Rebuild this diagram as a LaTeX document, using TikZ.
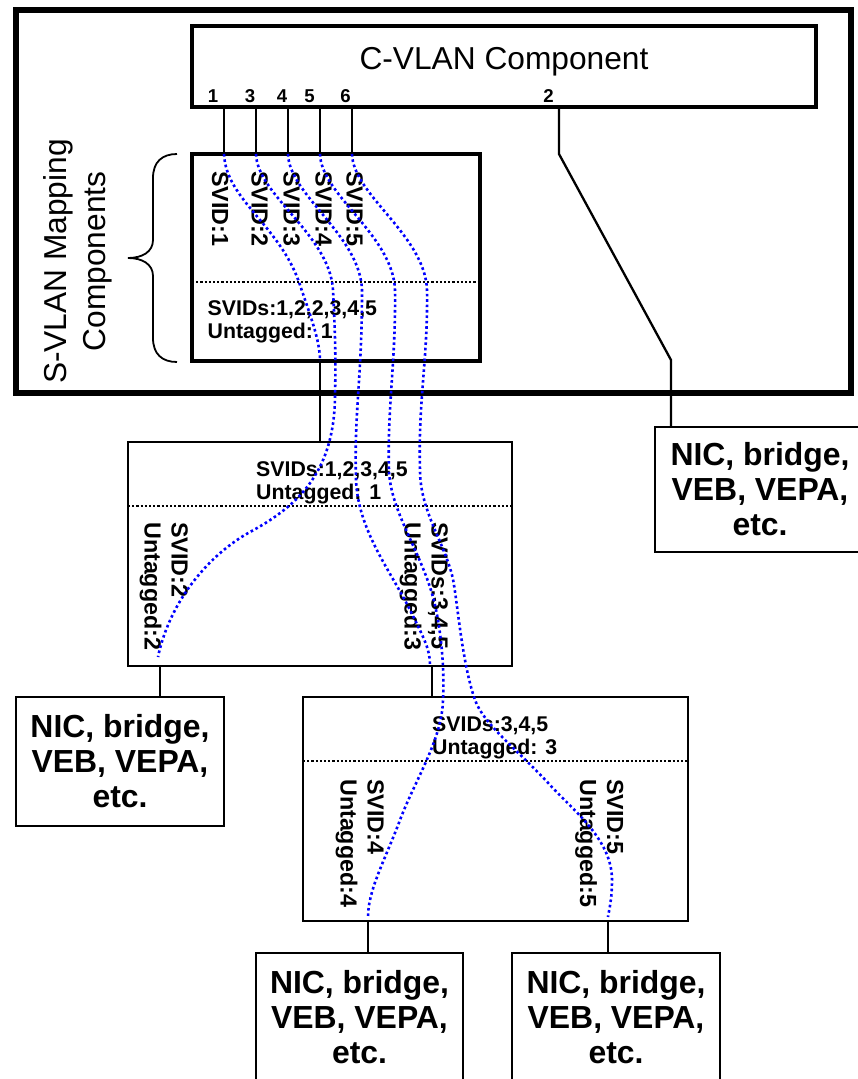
\documentclass[tikz,border=0pt]{standalone}
\usepackage{fontspec}
\setmainfont{Liberation Sans}
\begin{document}
\begin{tikzpicture}[x=1pt,y=-1pt,
  outerbox/.style={draw, line width=5.5pt, inner sep=0, outer sep=0},
  compbox/.style={draw, line width=3.5pt, inner sep=0, outer sep=0},
  svbox/.style={draw, line width=2.5pt, inner sep=0, outer sep=0},
  nicbox/.style={draw, line width=2.7pt, inner sep=0, outer sep=0, align=center,
    font=\fontsize{31.9}{35}\selectfont\bfseries},
  wire/.style={line width=2.3pt},
  sepline/.style={line width=2.2pt, dash pattern=on 2.2pt off 2pt},
  trace/.style={blue, line width=2.6pt, dash pattern=on 2.6pt off 2.8pt},
  portlab/.style={inner sep=0, anchor=base, font=\fontsize{18.6}{20}\selectfont\bfseries},
  hlab/.style={inner sep=0, anchor=north west, align=left, font=\fontsize{21.3}{23}\selectfont\bfseries},
  vlab/.style={inner sep=0, anchor=north west, align=left, rotate=-90, font=\fontsize{23.3}{27}\selectfont\bfseries},
  bracepath/.style={line width=1.8pt}
]
\useasboundingbox (0,0) rectangle (857,1079);
\fill[white] (0,0) rectangle (857,1079);

% outer box
\node[outerbox, minimum width=835pt, minimum height=383pt] (outer) at (433.5,201.5) {};

% C-VLAN component
\node[compbox, minimum width=624pt, minimum height=81pt] (cvlan) at (504,66.5) {};
\node[inner sep=0, anchor=base, font=\fontsize{31.7}{36}\selectfont] (cvlantext) at (504,69) {C-VLAN Component};
\node[portlab] (l1) at (213,102) {1};
\node[portlab] (l3) at (250,102) {3};
\node[portlab] (l4) at (282,102) {4};
\node[portlab] (l5) at (309.5,102) {5};
\node[portlab] (l6) at (345.5,102) {6};
\node[portlab] (l2) at (548.5,102) {2};

% S-VLAN mapping component
\node[compbox, minimum width=288pt, minimum height=207pt] (svlan) at (336,257.5) {};
\coordinate (svl) at (192,282);
\coordinate (svr) at (480,282);
\draw[sepline] (svl) -- (svr);
\node[vlab] (sv1) at (228.5,171) {SVID:1};
\node[vlab] (sv2) at (268,171) {SVID:2};
\node[vlab] (sv3) at (300,171) {SVID:3};
\node[vlab] (sv4) at (332,171) {SVID:4};
\node[vlab] (sv5) at (363,171) {SVID:5};
\node[hlab] (svids) at (207.5,300.5) {SVIDs:1,2,2,3,4,5\\Untagged: 1};

% brace and side label
\draw[bracepath] (177,154) .. controls (162,154) and (153,162) .. (153,178) -- (153,240)
  .. controls (153,252) and (142,258) .. (128,258)
  .. controls (142,258) and (153,264) .. (153,276) -- (153,338)
  .. controls (153,354) and (162,362) .. (177,362);
\node[inner sep=0, rotate=90, anchor=north, align=center, font=\fontsize{31.7}{39}\selectfont] (svmap) at (43,261.5) {S-VLAN Mapping\\Components};

% port connectors
\coordinate (pt1) at (224,107); \coordinate (pb1) at (224,154);
\coordinate (pt3) at (256,107); \coordinate (pb3) at (256,154);
\coordinate (pt4) at (288,107); \coordinate (pb4) at (288,154);
\coordinate (pt5) at (320,107); \coordinate (pb5) at (320,154);
\coordinate (pt6) at (352,107); \coordinate (pb6) at (352,154);
\draw[wire] (pt1) -- (pb1);
\draw[wire] (pt3) -- (pb3);
\draw[wire] (pt4) -- (pb4);
\draw[wire] (pt5) -- (pb5);
\draw[wire] (pt6) -- (pb6);

% box B
\node[svbox, minimum width=384pt, minimum height=224pt] (boxB) at (320,554) {};
\coordinate (bBl) at (128,506);
\coordinate (bBr) at (512,506);
\draw[sepline] (bBl) -- (bBr);
\node[hlab] (bBtext) at (256,461.5) {SVIDs:1,2,3,4,5\\Untagged: 1};
\node[vlab] (bBlab1) at (188,522) {SVID:2\\Untagged:2};
\node[vlab] (bBlab2) at (448,522) {SVIDs:3,4,5\\Untagged:3};

% box C
\node[svbox, minimum width=385pt, minimum height=224pt] (boxC) at (495.5,809) {};
\coordinate (bCl) at (303,761);
\coordinate (bCr) at (688,761);
\draw[sepline] (bCl) -- (bCr);
\node[hlab] (bCtext) at (432,716.5) {SVIDs:3,4,5\\Untagged: 3};
\node[vlab] (bClab1) at (384,779) {SVID:4\\Untagged:4};
\node[vlab] (bClab2) at (623.5,779) {SVID:5\\Untagged:5};

% end stations
\node[nicbox, minimum width=208pt, minimum height=129pt] (nicA) at (120,761.5) {NIC, bridge,\\VEB, VEPA,\\etc.};
\node[nicbox, minimum width=210pt, minimum height=125pt] (nicF) at (760,489.5) {NIC, bridge,\\VEB, VEPA,\\etc.};
\node[nicbox, minimum width=207pt, minimum height=129pt] (nicD) at (359.5,1017.5) {NIC, bridge,\\VEB, VEPA,\\etc.};
\node[nicbox, minimum width=208pt, minimum height=129pt] (nicE) at (616,1017.5) {NIC, bridge,\\VEB, VEPA,\\etc.};

% connectors
\coordinate (pt2) at (559,107);
\coordinate (bend1) at (559,154);
\coordinate (bend2) at (671,360);
\draw[wire] (pt2) -- (bend1) -- (bend2) -- (nicF.north -| bend2);
\coordinate (svout) at (320,361);
\draw[wire] (svout) -- (boxB.north -| svout);
\coordinate (bBo1) at (160,666);
\coordinate (bBo2) at (432,666);
\draw[wire] (bBo1) -- (nicA.north -| bBo1);
\draw[wire] (bBo2) -- (boxC.north -| bBo2);
\coordinate (bCo1) at (368,921);
\coordinate (bCo2) at (608,921);
\draw[wire] (bCo1) -- (nicD.north -| bCo1);
\draw[wire] (bCo2) -- (nicE.north -| bCo2);

% traces
\coordinate (t2end) at (158,657);
\coordinate (t3end) at (430,665);
\coordinate (t4end) at (368,917);
\coordinate (t5end) at (608,917);
\draw[trace] (pb1) .. controls (226,200) and (280,225) .. (300,285)
  .. controls (310,315) and (320,340) .. (svout);
\draw[trace] (pb3) .. controls (257,195) and (330,235) .. (333,290)
  .. controls (335,330) and (336,360) .. (335,394)
  .. controls (335,470) and (300,505) .. (250,532)
  .. controls (210,554) and (170,600) .. (t2end);
\draw[trace] (pb4) .. controls (289,195) and (360,235) .. (362,290)
  .. controls (362,380) and (354,410) .. (356,480)
  .. controls (358,530) and (390,570) .. (410,610)
  .. controls (425,640) and (430,650) .. (t3end);
\draw[trace] (pb5) .. controls (321,195) and (393,235) .. (395,290)
  .. controls (396,360) and (387,410) .. (389,470)
  .. controls (390,510) and (420,550) .. (433,597)
  .. controls (439,619) and (445,660) .. (443,700)
  .. controls (442,740) and (415,780) .. (400,820)
  .. controls (385,860) and (368,890) .. (t4end);
\draw[trace] (pb6) .. controls (353,195) and (425,235) .. (427,290)
  .. controls (428,360) and (418,400) .. (420,470)
  .. controls (420,510) and (443,540) .. (452,575)
  .. controls (457,594) and (461,660) .. (475,700)
  .. controls (484,725) and (520,752) .. (550,785)
  .. controls (575,812) and (612,840) .. (612,880)
  .. controls (612,900) and (609,910) .. (t5end);
\end{tikzpicture}
\end{document}
